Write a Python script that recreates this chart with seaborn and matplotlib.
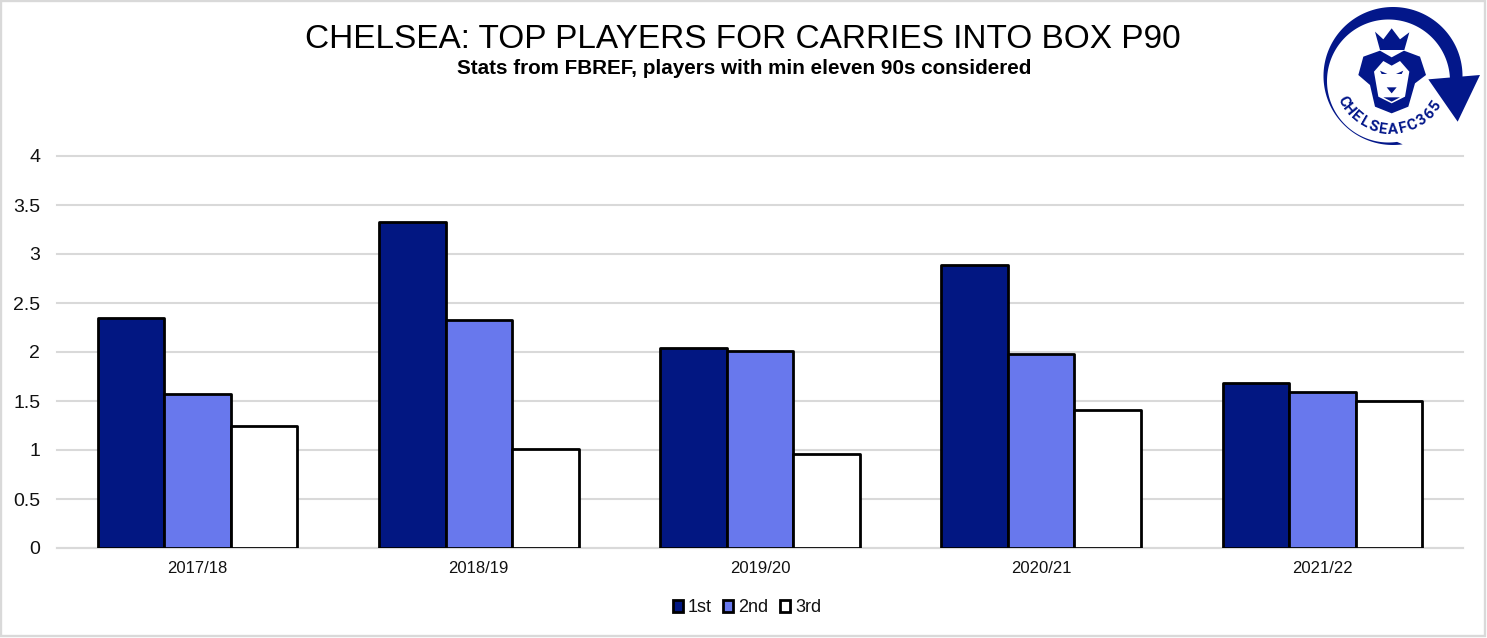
import matplotlib
matplotlib.use("Agg")
import matplotlib.pyplot as plt
from matplotlib.patches import Rectangle, Polygon
import numpy as np
import seaborn as sns
import pandas as pd

seasons = ["2017/18", "2018/19", "2019/20", "2020/21", "2021/22"]
first = [2.35, 3.33, 2.04, 2.89, 1.68]
second = [1.57, 2.33, 2.01, 1.98, 1.59]
third = [1.24, 1.01, 0.96, 1.41, 1.50]
ranks = ["1st", "2nd", "3rd"]
colors = ["#021782", "#6878ED", "#FFFFFF"]
yticks = [0, 0.5, 1, 1.5, 2, 2.5, 3, 3.5, 4]
ylabels = ["0", "0.5", "1", "1.5", "2", "2.5", "3", "3.5", "4"]

df = pd.DataFrame({"season": seasons * 3,
                   "rank": [r for r in ranks for _ in seasons],
                   "value": first + second + third})

W, H = 1487, 638
plt.rcParams["font.family"] = ["Liberation Sans", "DejaVu Sans"]
fig = plt.figure(figsize=(W / 100, H / 100), dpi=100, facecolor="white")
ax = fig.add_axes([57 / W, 1 - 548 / H, (1463 - 57) / W, (548 - 156) / H])
sns.barplot(data=df, x="season", y="value", hue="rank", palette=colors, ax=ax,
            gap=0, width=0.71, saturation=1, edgecolor="black", linewidth=2, legend=False, zorder=3)
for p in ax.patches:
    p.set_joinstyle("round")
ax.set_ylim(0, 4)
ax.set_xlim(-0.5, 4.5)
ax.set_yticks(yticks, ylabels)
ax.set_xlabel("")
ax.set_ylabel("")
ax.grid(axis="y", color="#D9D9D9", linewidth=1.5, zorder=0)
for g in ax.get_ygridlines():
    g.set_clip_on(False)
ax.set_axisbelow(True)
for s in ["top", "right", "left"]:
    ax.spines[s].set_visible(False)
ax.spines["bottom"].set_color("#D9D9D9")
ax.spines["bottom"].set_linewidth(1.5)
ax.tick_params(axis="y", length=0, labelsize=14, pad=12, labelcolor="#111111")
ax.tick_params(axis="x", length=0, labelsize=12, pad=9.5, labelcolor="#111111")

fig.text(743 / W, 1 - 39 / H, "CHELSEA: TOP PLAYERS FOR CARRIES INTO BOX P90",
         ha="center", va="center", fontsize=24, color="black")
fig.text(744.5 / W, 1 - 68 / H, "Stats from FBREF, players with min eleven 90s considered",
         ha="center", va="center", fontsize=14.9, fontweight="bold", color="black")

# legend
handles = [Rectangle((0, 0), 1, 1, facecolor=c, edgecolor="black", linewidth=2, joinstyle="round") for c in colors]
fig.legend(handles, ranks, loc="center", bbox_to_anchor=(747 / W, 1 - 608 / H), ncol=3, frameon=False,
           fontsize=13, handlelength=0.55, handleheight=0.6, handletextpad=0.3, columnspacing=0.62,
           labelcolor="#111111")

# logo, drawn in figure pixels; zoom() maps 3x crop coordinates to pixels
lx = fig.add_axes([0, 0, 1, 1], facecolor="none")
lx.set_xlim(0, W)
lx.set_ylim(H, 0)
lx.axis("off")
navy = "#03178A"


def zoom(pts):
    return [[1300 + x / 3, y / 3] for x, y in pts]


def shape(pts, color=navy):
    lx.add_patch(Polygon(zoom(pts), facecolor=color, edgecolor="none"))


ang = np.radians(np.linspace(82, 362, 140))
outer = np.c_[1393 + 69.5 * np.cos(ang), 76 + 69 * np.sin(ang)]
inner = np.c_[1388.5 + 61.5 * np.cos(ang), 81 + 61.5 * np.sin(ang)]
lx.add_patch(Polygon(np.r_[outer, inner[::-1]], facecolor=navy, edgecolor="none"))
shape([(385, 238), (540, 225), (473, 365)])
# crown
shape([(225, 95), (250, 118), (275, 85), (300, 118), (328, 97), (313, 150), (240, 150)])
# mane
shape([(175, 225), (190, 170), (240, 152), (275, 172), (312, 152), (360, 170), (378, 225),
       (345, 250), (325, 320), (275, 340), (225, 320), (210, 255)])
# face
shape([(222, 215), (250, 183), (275, 197), (300, 183), (328, 215), (315, 290), (275, 310), (235, 290)], "white")
# eyes, nose, mouth
shape([(240, 212), (262, 222), (245, 222)])
shape([(310, 212), (288, 222), (305, 222)])
shape([(260, 262), (290, 262), (275, 280)])
shape([(250, 292), (300, 292), (275, 305)])

logo_text = "CHELSEAFC365"
for ch, th in zip(logo_text, np.linspace(152, 34, len(logo_text))):
    t = np.radians(th)
    lx.text(1391 + 54 * np.cos(t), 76 + 54 * np.sin(t), ch, rotation=90 - th, rotation_mode="anchor",
            ha="center", va="center", fontsize=11, fontweight="bold",
            family=["Liberation Sans Narrow", "Roboto"], color=navy)

# outer frame
lx.add_patch(Rectangle((1, 1), W - 3, H - 3, fill=False, edgecolor="#D9D9D9", linewidth=1.7))
fig.savefig("out.png", dpi=100, facecolor="white")
